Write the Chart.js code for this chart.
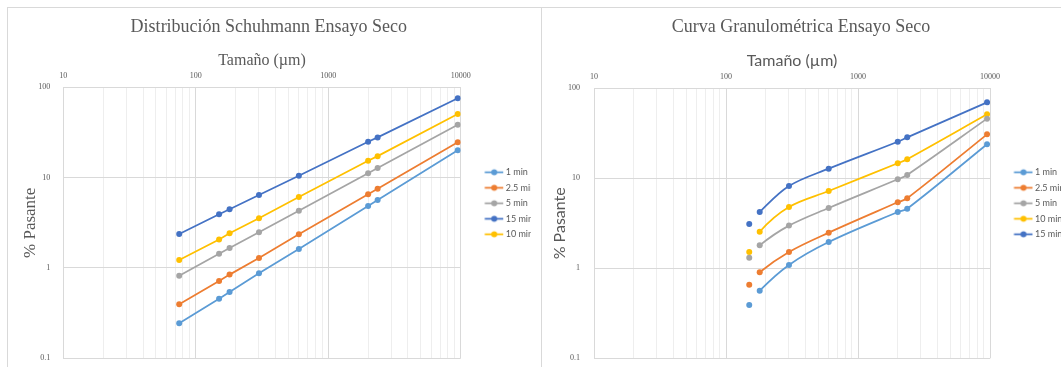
<!DOCTYPE html>
<html>
<head>
<meta charset="utf-8">
<script src="https://cdn.jsdelivr.net/npm/chart.js@4.4.1/dist/chart.umd.min.js"></script>
<style>
  body { margin: 0; background: #fff; }
  #wrap { position: relative; width: 1061px; height: 367px; overflow: hidden; }
  .panel { position: absolute; border-left: 1px solid #d9d9d9; border-top: 1px solid #d9d9d9; }
  canvas { position: absolute; top: 0; }
</style>
</head>
<body>
<div id="wrap">
  <div class="panel" style="left:7px;top:7px;width:534px;height:370px;"></div>
  <div class="panel" style="left:541px;top:7px;width:530px;height:370px;"></div>
  <canvas id="schuhmann" width="541" height="367" style="left:0"></canvas>
  <canvas id="curva" width="520" height="367" style="left:541px"></canvas>
</div>
<script>
// sieve sizes (um)
var sizesSchuhmann = [75, 150, 180, 300, 600, 2000, 2360, 9500];
var sizesCurva = [150, 180, 300, 600, 2000, 2360, 9500];

// Distribucion Schuhmann, % pasante
var sch1min = [0.244, 0.457, 0.542, 0.873, 1.62, 4.85, 5.65, 20.1];
var sch2_5min = [0.396, 0.718, 0.844, 1.29, 2.36, 6.53, 7.55, 24.6];
var sch5min = [0.822, 1.44, 1.66, 2.48, 4.3, 11.2, 12.8, 38.6];
var sch15min = [2.38, 3.93, 4.46, 6.43, 10.5, 25.0, 27.9, 75.5];
var sch10min = [1.225, 2.07, 2.42, 3.55, 6.1, 15.4, 17.3, 50.6];

// Curva granulometrica, % pasante
var cur1min = [0.391, 0.564, 1.09, 1.96, 4.22, 4.59, 23.9];
var cur2_5min = [0.657, 0.903, 1.52, 2.49, 5.41, 6.0, 30.8];
var cur5min = [1.31, 1.8, 2.98, 4.68, 9.75, 10.9, 46];
var cur10min = [1.52, 2.55, 4.8, 7.22, 14.7, 16.3, 51.4];
var cur15min = [3.1, 4.22, 8.2, 12.8, 25.5, 28.5, 69.8];

// axis ticks
var xDecades = [10, 100, 1000, 10000];
var yTicks = [0.1, 1, 10, 100];

var COLORS = {
    '1 min': '#5B9BD5',
    '2.5 min': '#ED7D31',
    '5 min': '#A5A5A5',
    '10 min': '#FFC000',
    '15 min': '#4472C4'
};

var SERIF = "'Liberation Serif', 'DejaVu Serif', serif";
var SANS = "Lato, 'Liberation Sans', sans-serif";
var TEXT = '#595959';

function isMajor(v) {
    var l = Math.log10(v);
    return Math.abs(l - Math.round(l)) < 1e-9;
}

function toPoints(xs, ys) {
    return ys.map((y, i) => ({ x: xs[i], y: y }));
}

// small line + marker icon, like the spreadsheet legend
function legendIcon(color) {
    var c = document.createElement('canvas');
    c.width = 40;
    c.height = 9;
    var g = c.getContext('2d');
    g.strokeStyle = color;
    g.lineWidth = 1.75;
    g.beginPath();
    g.moveTo(20.5, 4.5);
    g.lineTo(39, 4.5);
    g.stroke();
    g.fillStyle = color;
    g.beginPath();
    g.arc(30, 4.5, 3, 0, Math.PI * 2);
    g.fill();
    return c;
}

function makeDataset(label, xs, ys, gapFirst) {
    var color = COLORS[label];
    var ds = {
        label: label,
        data: toPoints(xs, ys),
        borderColor: color,
        backgroundColor: color,
        borderWidth: 1.75,
        pointRadius: 3,
        pointHoverRadius: 3,
        pointBackgroundColor: color,
        pointBorderColor: color,
        pointBorderWidth: 0
    };
    if (gapFirst) {
        // first size is not joined to the rest of the curve
        ds.tension = 0.35;
        ds.segment = {
            borderColor: ctx => ctx.p0DataIndex === 0 ? 'rgba(0,0,0,0)' : color
        };
    }
    return ds;
}

function buildOptions(cfg) {
    return {
        responsive: false,
        animation: false,
        layout: { padding: cfg.padding },
        plugins: {
            title: {
                display: true,
                text: cfg.title,
                color: TEXT,
                font: { family: SERIF, size: 18, weight: 'normal' },
                padding: { top: 16, bottom: 0 }
            },
            legend: {
                position: 'right',
                align: 'start',
                maxWidth: cfg.legendWidth,
                title: { display: true, text: ' ', font: { size: 10 }, padding: { top: 149.3, bottom: 0 } },
                labels: {
                    color: TEXT,
                    font: { family: SANS, size: 9 },
                    padding: 6.5,
                    usePointStyle: true,
                    pointStyleWidth: 34,
                    generateLabels: chart => Chart.defaults.plugins.legend.labels.generateLabels(chart).map(item => {
                        item.pointStyle = legendIcon(chart.data.datasets[item.datasetIndex].borderColor);
                        return item;
                    })
                }
            },
            tooltip: { enabled: false }
        },
        scales: {
            x: {
                type: 'logarithmic',
                position: 'top',
                min: 10,
                max: 10000,
                afterBuildTicks: scale => {
                    var ticks = [];
                    for (var d = 0; d < xDecades.length - 1; d++) {
                        for (var k = 1; k < 10; k++) ticks.push({ value: k * xDecades[d] });
                    }
                    ticks.push({ value: xDecades[xDecades.length - 1] });
                    scale.ticks = ticks;
                },
                afterFit: scale => { scale.height = cfg.xAxisHeight; },
                title: {
                    display: true,
                    text: 'Tamaño (µm)',
                    color: TEXT,
                    font: { family: cfg.axisFont, size: 16 },
                    padding: { top: 13.8, bottom: 0 }
                },
                ticks: {
                    autoSkip: false,
                    maxRotation: 0,
                    color: TEXT,
                    font: { family: SERIF, size: 8 },
                    padding: 6.5,
                    callback: value => isMajor(value) ? String(value) : ''
                },
                grid: {
                    drawTicks: false,
                    color: ctx => isMajor(ctx.tick.value) ? '#d9d9d9' : '#eeeeee'
                },
                border: { color: '#d9d9d9' }
            },
            y: {
                type: 'logarithmic',
                min: 0.1,
                max: 100,
                afterBuildTicks: scale => { scale.ticks = yTicks.map(v => ({ value: v })); },
                afterFit: scale => {
                    scale.width = cfg.yAxisWidth;
                    // tick padding should not push the plot up from the bottom
                    scale.paddingTop = 5;
                    scale.paddingBottom = 5;
                },
                title: {
                    display: true,
                    text: '% Pasante',
                    color: TEXT,
                    font: { family: cfg.axisFont, size: cfg.yTitleSize },
                    padding: { top: cfg.yTitlePad, bottom: 0 }
                },
                ticks: {
                    color: TEXT,
                    font: { family: SERIF, size: 8 },
                    padding: cfg.yTickPad,
                    callback: value => String(value)
                },
                grid: { drawTicks: false, color: '#d9d9d9' },
                border: { color: '#d9d9d9' }
            }
        }
    };
}

new Chart(document.getElementById('schuhmann').getContext('2d'), {
    type: 'line',
    data: {
        datasets: [
            makeDataset('1 min', sizesSchuhmann, sch1min),
            makeDataset('2.5 min', sizesSchuhmann, sch2_5min),
            makeDataset('5 min', sizesSchuhmann, sch5min),
            makeDataset('15 min', sizesSchuhmann, sch15min),
            makeDataset('10 min', sizesSchuhmann, sch10min)
        ]
    },
    options: buildOptions({
        title: 'Distribución Schuhmann Ensayo Seco',
        padding: { left: 7, top: 0, right: 10.3, bottom: 8.7 },
        legendWidth: 70,
        xAxisHeight: 49.7,
        yAxisWidth: 56.3,
        axisFont: SERIF,
        yTitleSize: 17,
        yTitlePad: 13,
        yTickPad: 13
    })
});

new Chart(document.getElementById('curva').getContext('2d'), {
    type: 'line',
    data: {
        datasets: [
            makeDataset('1 min', sizesCurva, cur1min, true),
            makeDataset('2.5 min', sizesCurva, cur2_5min, true),
            makeDataset('5 min', sizesCurva, cur5min, true),
            makeDataset('10 min', sizesCurva, cur10min, true),
            makeDataset('15 min', sizesCurva, cur15min, true)
        ]
    },
    options: buildOptions({
        title: 'Curva Granulométrica Ensayo Seco',
        padding: { left: 0, top: 0, right: 0, bottom: 8.7 },
        legendWidth: 71,
        xAxisHeight: 50.7,
        yAxisWidth: 53,
        axisFont: SANS,
        yTitleSize: 16,
        yTitlePad: 9,
        yTickPad: 14
    })
});
</script>
</body>
</html>
